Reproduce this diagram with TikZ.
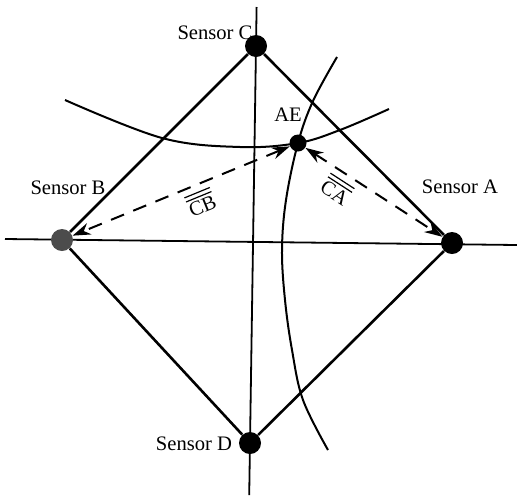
\documentclass[tikz,border=0pt]{standalone}
\usepackage{fontspec}
\setmainfont{Liberation Serif}
\usetikzlibrary{arrows.meta, positioning}
\tikzset{
  >={Stealth[length=9pt, width=6pt]},
  every node/.style={font=\fontsize{10.3}{12}\selectfont},
  sensor/.style={circle, fill=black, inner sep=0pt, minimum size=11pt},
  target/.style={circle, fill=black, inner sep=0pt, minimum size=8.5pt},
  axisline/.style={line width=0.9pt},
  edgeline/.style={line width=1.3pt},
  locus/.style={line width=1pt},
  rangearrow/.style={<->, dashed, dash pattern=on 7pt off 5pt, line width=1pt},
  sensorlabel/.style={inner sep=0pt}
}
\newcommand{\dbar}[1]{\vbox{\hrule height 0.6pt\kern1.6pt\hrule height 0.6pt\kern1.2pt\hbox{#1}}}
\begin{document}
\begin{tikzpicture}[x=0.5pt, y=-0.5pt]
\useasboundingbox (0,0) rectangle (517,499);
% axes
\coordinate (ytop) at (256.6,7);
\coordinate (ybot) at (249.2,495);
\coordinate (xleft) at (5,239);
\coordinate (xright) at (517,245);
\draw[axisline] (ytop) -- (ybot);
\draw[axisline] (xleft) -- (xright);

% the four sensors and the emitter
\node[sensor] (sC) at (256,46) {};
\node[sensor, fill=black!70] (sB) at (62,240) {};
\node[sensor] (sA) at (452,243) {};
\node[sensor] (sD) at (250,443) {};
\node[target] (ae) at (298,143) {};

\node[sensorlabel] (lC) at (215,33) {Sensor C};
\node[sensorlabel] (lB) at (68,188) {Sensor B};
\node[sensorlabel] (lA) at (460,187) {Sensor A};
\node[sensorlabel] (lD) at (194,444) {Sensor D};
\node[sensorlabel] (lAE) at (288,115) {AE};

% diamond
\draw[edgeline] (sC) -- (sA);
\draw[edgeline] (sA) -- (sD);
\draw[edgeline] (sD) -- (sB);
\draw[edgeline] (sB) -- (sC);

% loci
\draw[locus] plot[smooth, tension=0.6] coordinates
  {(65,100) (162,138) (240,147) (298,143) (340,130) (389,109)};
\draw[locus] plot[smooth, tension=0.6] coordinates
  {(337,57) (313,101) (298,143) (286,200) (282,250) (285,300) (292,350) (303,400) (328,450)};

% range differences
\draw[rangearrow] (ae) -- node[sloped, below=2pt, pos=0.3, inner sep=1pt]
  {\dbar{CA}} (sA);
\draw[rangearrow] (ae) -- node[sloped, below=2pt, pos=0.44, inner sep=1pt]
  {\dbar{CB}} (sB);
\end{tikzpicture}
\end{document}
